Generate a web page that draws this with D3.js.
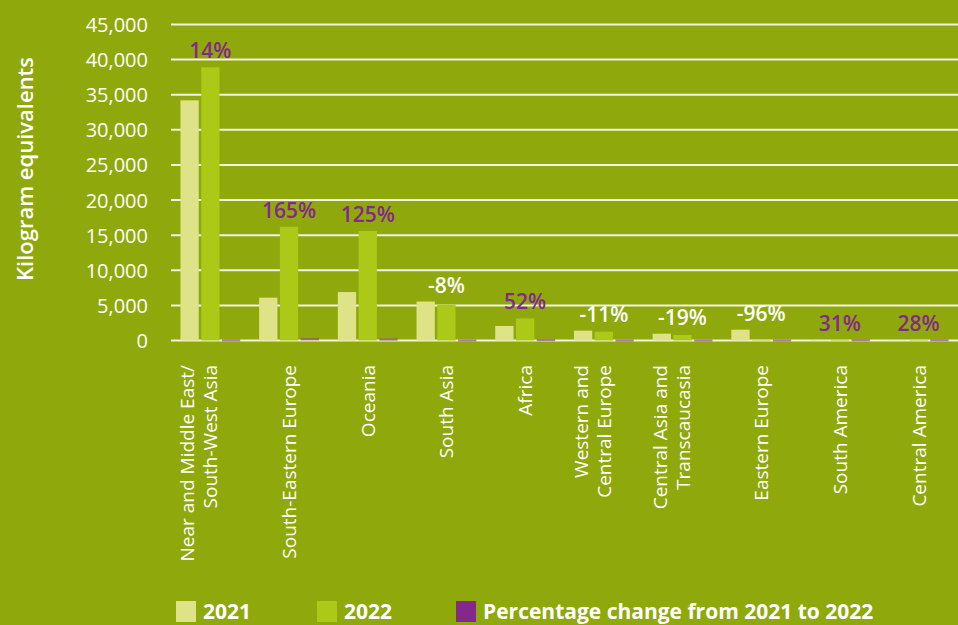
<!DOCTYPE html>
<html><head><meta charset="utf-8">
<script src="https://cdn.jsdelivr.net/npm/d3@7"></script>
<style>
html,body{margin:0;padding:0;background:#8fa80b;}
svg{display:block;font-family:"Open Sans","Noto Sans",sans-serif;}
</style></head>
<body><svg id="c" width="958" height="625"></svg>
<script>
const categories = [
  ["Near and Middle East/","South-West Asia"],
  ["South-Eastern Europe"],
  ["Oceania"],
  ["South Asia"],
  ["Africa"],
  ["Western and","Central Europe"],
  ["Central Asia and","Transcaucasia"],
  ["Eastern Europe"],
  ["South America"],
  ["Central America"]
];
const values2021 = [34200, 6100, 6900, 5550, 2070, 1400, 970, 1540, 80, 50];
const values2022 = [38900, 16200, 15600, 5100, 3150, 1250, 790, 60, 105, 64];
const pctChange = [14, 165, 125, -8, 52, -11, -19, -96, 31, 28];
const yTicks = [0, 5000, 10000, 15000, 20000, 25000, 30000, 35000, 40000, 45000];
const seriesNames = ["2021", "2022", "Percentage change from 2021 to 2022"];

(function(){
const colors = {bg:"#8fa80b", c2021:"#dfe388", c2022:"#abc916", pct:"#83298a", grid:"#f1f2e2", text:"#ffffff"};
const svg = d3.select("#c");
const pLeft = 171, pRight = 958, pTop = 24.5, pBottom = 340.5;

const y = d3.scaleLinear().domain([0, 45000]).range([pBottom, pTop]);
const x0 = d3.scaleBand().domain(d3.range(categories.length)).range([pLeft, pRight]).paddingInner(0.24).paddingOuter(0.12);
const x1 = d3.scaleBand().domain([0,1,2]).range([0, x0.bandwidth()]).paddingInner(0.12);

// grid
svg.append("g").selectAll("line").data(yTicks).join("line")
  .attr("x1", pLeft).attr("x2", pRight)
  .attr("y1", d => y(d)).attr("y2", d => y(d))
  .attr("stroke", colors.grid).attr("stroke-width", 2);

// y axis labels
const yAxis = d3.axisLeft(y).tickValues(yTicks).tickFormat(d3.format(",")).tickSize(0).tickPadding(0);
const ya = svg.append("g").attr("transform", `translate(148,0)`).call(yAxis);
ya.select(".domain").remove();
ya.selectAll("text").attr("fill", colors.text).style("font-size", "20px").style("font-family", "'Open Sans',sans-serif").attr("dy", "0.35em");

// y title
svg.append("text").attr("transform", "translate(33,169) rotate(-90)")
  .attr("text-anchor", "middle").attr("fill", colors.text)
  .style("font-size", "22px").style("font-weight", "600")
  .text("Kilogram equivalents");

// bars
const groups = svg.append("g").selectAll("g").data(categories.map((c,i)=>i)).join("g")
  .attr("transform", i => `translate(${x0(i)},0)`);

groups.append("rect").attr("x", x1(0)).attr("width", x1.bandwidth())
  .attr("y", i => y(values2021[i])).attr("height", i => y(0) - y(values2021[i]))
  .attr("fill", colors.c2021);
groups.append("rect").attr("x", x1(1)).attr("width", x1.bandwidth())
  .attr("y", i => y(values2022[i])).attr("height", i => y(0) - y(values2022[i]))
  .attr("fill", colors.c2022);
groups.append("rect").attr("x", x1(2)).attr("width", x1.bandwidth())
  .attr("y", i => Math.min(y(0), y(pctChange[i])) - 1)
  .attr("height", i => Math.max(2, Math.abs(y(pctChange[i]) - y(0))))
  .attr("fill", colors.pct).attr("opacity", 0.6);

// percentage labels
groups.append("text")
  .attr("x", x1(1) + x1.bandwidth()/2)
  .attr("y", i => y(Math.max(values2021[i], values2022[i])) - 9)
  .attr("text-anchor", "middle")
  .attr("fill", i => pctChange[i] < 0 ? colors.text : colors.pct)
  .style("font-size", "21px").style("font-weight", "600")
  .text(i => pctChange[i] + "%");

// category labels
groups.each(function(i){
  const lines = categories[i];
  const cx = x0.bandwidth()/2;
  const t = d3.select(this).append("text")
    .attr("transform", `translate(${cx + 7},365) rotate(-90)`)
    .attr("text-anchor", "end").attr("fill", colors.text)
    .style("font-size", "19px");
  lines.forEach((ln, k) => {
    t.append("tspan").attr("x", 0).attr("y", (k - (lines.length - 1)) * 23).text(ln);
  });
});

// legend
const legendX = [176, 317, 456];
const legendColors = [colors.c2021, colors.c2022, colors.pct];
const lg = svg.append("g").selectAll("g").data(seriesNames.map((s,i)=>i)).join("g")
  .attr("transform", i => `translate(${legendX[i]},601)`);
lg.append("rect").attr("width", 20).attr("height", 21).attr("fill", i => legendColors[i]);
lg.append("text").attr("x", 27).attr("y", 18).attr("fill", colors.text)
  .style("font-size", "21px").style("font-weight", "700")
  .text(i => seriesNames[i]);
})();
</script></body></html>
